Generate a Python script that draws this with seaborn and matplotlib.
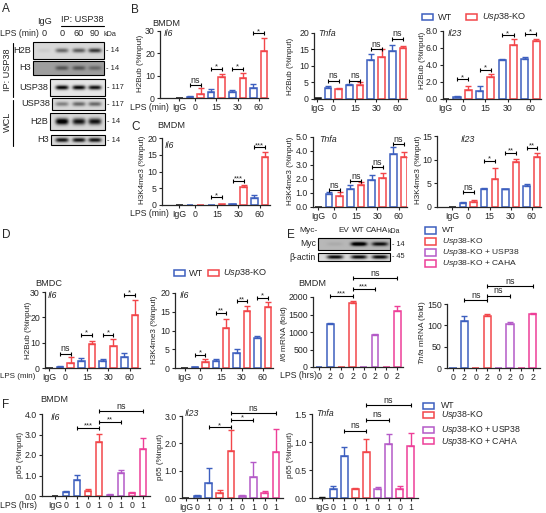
import numpy as np
import pandas as pd
import matplotlib
matplotlib.use('Agg')
import matplotlib.pyplot as plt
import seaborn as sns
from matplotlib.patches import Rectangle

sns.set_style('ticks')
plt.rcParams['font.family'] = ['Liberation Sans', 'DejaVu Sans']
plt.rcParams['mathtext.fontset'] = 'custom'
plt.rcParams['mathtext.rm'] = 'Liberation Sans'
plt.rcParams['mathtext.it'] = 'Liberation Sans:italic'

W, H = 546, 513
C_WT, C_KO, C_RES, C_CAHA, C_IGG = '#3d5fbf', '#f2464a', '#b45ac8', '#ee3f98', '#111111'
FS = 6.3

# ---------------- data ----------------
time_labels = ['IgG', '0', '15', '30', '60']
pair_sig_pos = [(1, 2), (3, 4), (5, 6), (7, 8)]

# B: H2Bub ChIP, BMDM
b_il6_igg, b_il6_wt, b_il6_wt_err = 0.0, [0.5, 2.7, 2.8, 4.3], [0.3, 1.3, 0.7, 1.8]
b_il6_ko, b_il6_ko_err = [2.0, 9.3, 8.8, 21.0], [2.3, 1.3, 2.5, 6.0]
b_il6_sig, b_il6_sig_h = ['ns', '*', '*', '*'], [5.7, 13, 13, 29]

b_tnfa_igg, b_tnfa_wt, b_tnfa_wt_err = 0.2, [3.3, 4.1, 11.9, 14.4], [0.5, 0.3, 1.6, 2.0]
b_tnfa_ko, b_tnfa_ko_err = [3.0, 4.3, 12.6, 15.5], [0.3, 1.0, 2.4, 0.7]
b_tnfa_sig, b_tnfa_sig_h = ['ns', 'ns', 'ns', 'ns'], [5.6, 5.6, 15.0, 18.3]

b_il23_igg, b_il23_wt, b_il23_wt_err = 0.0, [0.23, 0.95, 4.55, 4.65], [0.1, 0.6, 0.1, 0.3]
b_il23_ko, b_il23_ko_err = [1.0, 2.6, 6.4, 6.85], [0.5, 0.3, 0.6, 0.15]
b_il23_sig, b_il23_sig_h = ['*', '*', '*', '*'], [2.3, 3.4, 7.5, 7.7]

# C: H3K4me3 ChIP, BMDM
c_il6_igg, c_il6_wt, c_il6_wt_err = 0.0, [0.0, 0.0, 0.3, 2.2], [0, 0, 0.1, 0.7]
c_il6_ko, c_il6_ko_err = [0.0, 0.2, 5.4, 14.3], [0, 0, 0.5, 1.5]
c_il6_sig, c_il6_sig_h = ['', '*', '***', '***'], [0, 2.3, 7.2, 17.2]

c_tnfa_igg, c_tnfa_wt, c_tnfa_wt_err = 0.0, [0.95, 1.25, 1.9, 3.8], [0.1, 0.35, 0.35, 0.45]
c_tnfa_ko, c_tnfa_ko_err = [0.8, 1.55, 2.05, 3.55], [0.25, 0.2, 0.4, 0.35]
c_tnfa_sig, c_tnfa_sig_h = ['ns', 'ns', 'ns', 'ns'], [1.2, 1.83, 2.83, 4.5]

c_il23_igg, c_il23_wt, c_il23_wt_err = 0.0, [0.8, 3.7, 3.7, 4.4], [0.3, 0.4, 0.2, 0.4]
c_il23_ko, c_il23_ko_err = [1.0, 6.0, 9.5, 10.6], [0.4, 2.3, 0.6, 0.8]
c_il23_sig, c_il23_sig_h = ['ns', '*', '**', '**'], [3.1, 9.7, 11.5, 12.5]

# D: BMDC
d_h2b_igg, d_h2b_wt, d_h2b_wt_err = 0.0, [0.5, 2.7, 2.8, 4.3], [0.3, 1.3, 0.7, 1.8]
d_h2b_ko, d_h2b_ko_err = [2.0, 9.3, 8.8, 21.0], [2.3, 1.3, 2.5, 6.0]
d_h2b_sig, d_h2b_sig_h = ['ns', '*', '*', '*'], [5.7, 13, 13, 29]

d_h3_igg, d_h3_wt, d_h3_wt_err = 0.0, [0.2, 1.8, 4.1, 8.0], [0.1, 0.6, 1.0, 0.6]
d_h3_ko, d_h3_ko_err = [1.5, 10.8, 15.2, 16.2], [0.8, 2.4, 1.4, 1.5]
d_h3_sig, d_h3_sig_h = ['*', '**', '**', '*'], [3.6, 14.8, 17.8, 18.8]

# E: mRNA, BMDM (WT, KO, KO+USP38, KO+CAHA; 0 and 2 h)
e_labels = ['0', '2', '0', '2', '0', '2', '0', '2']
e_il6 = [5, 1230, 5, 1830, 5, 910, 5, 1600]
e_il6_err = [0, 15, 0, 60, 0, 30, 0, 150]
e_il6_sig, e_il6_sig_h = ['***', '***', 'ns'], [2035, 2230, 2540]
e_tnfa = [1, 110, 1, 121, 1, 102, 1, 126]
e_tnfa_err = [0, 13, 0, 5, 0, 5, 0, 4]
e_tnfa_sig, e_tnfa_sig_h = ['ns', 'ns', 'ns'], [159, 169, 192]
e_sig_pos = [(1, 3), (3, 5), (3, 7)]

# F: p65 ChIP, BMDM (IgG, then 0/1 h per genotype)
f_labels = ['IgG', '0', '1', '0', '1', '0', '1', '0', '1']
f_il6 = [0, 0.18, 0.8, 0.25, 2.65, 0.05, 1.1, 0.15, 2.3]
f_il6_err = [0, 0.05, 0.22, 0.1, 0.38, 0.03, 0.18, 0.05, 0.55]
f_il6_sig, f_il6_sig_h = ['***', '**', 'ns'], [3.33, 3.6, 4.15]
f_il23 = [0, 0.07, 0.56, 0.19, 1.72, 0.07, 0.76, 0.17, 1.67]
f_il23_err = [0, 0.03, 0.53, 0.1, 0.78, 0.03, 0.57, 0.1, 0.86]
f_il23_sig, f_il23_sig_h = ['*', '*', 'ns'], [2.58, 2.86, 3.1]
f_tnfa = [0, 0.155, 0.755, 0.16, 0.83, 0.155, 0.96, 0.155, 0.93]
f_tnfa_err = [0.02, 0.065, 0.15, 0.02, 0.22, 0.035, 0.18, 0.065, 0.23]
f_tnfa_sig, f_tnfa_sig_h = ['ns', 'ns', 'ns'], [1.2, 1.4, 1.66]
f_sig_pos = [(2, 4), (4, 6), (4, 8)]

# western blots: band densities per lane
a_rows = ['H2B', 'H3', 'USP38', 'USP38', 'H2B', 'H3']
a_kda = ['14', '14', '117', '117', '14', '14']
a_bands = [[0.05, 0.45, 0.5, 0.65], [0.0, 0.3, 0.3, 0.22], [0.9, 0.9, 0.85],
           [0.35, 0.45, 0.45], [0.95, 0.8, 0.8], [0.8, 0.8, 0.8]]
e_rows = ['Myc', 'β-actin']
e_kda = ['14', '45']
e_bands = [[0.05, 0.9, 0.7], [0.85, 0.85, 0.85]]

# ---------------- figure ----------------
fig = plt.figure(figsize=(W / 100, H / 100), dpi=100)


def make_ax(xr, yr):
    x0, x1, first, step = xr
    y0, ytop, top = yr
    ax = fig.add_axes([x0 / W, 1 - y0 / H, (x1 - x0) / W, (y0 - ytop) / H])
    ax.set_facecolor('none')
    ax._lim = ((x0 - first) / step, (x1 - first) / step, top)
    return ax


def draw_bars(ax, vals, errs, cols, yticks, fmt, xticks, xlabels):
    slots = [str(i) for i in range(len(vals))]
    df = pd.DataFrame({'slot': slots, 'val': vals, 'col': cols})
    sns.barplot(data=df, x='slot', y='val', hue='col', order=slots,
                palette={c: c for c in set(cols)}, dodge=False, fill=False,
                width=0.62, linewidth=1.1, errorbar=None, legend=False, ax=ax)
    for i, (v, e, c) in enumerate(zip(vals, errs, cols)):
        if e > 0:
            ax.errorbar(i, v, yerr=[[0], [e]], fmt='none', ecolor=c,
                        elinewidth=1.0, capsize=2.0, capthick=1.0, clip_on=False)
    lx0, lx1, top = ax._lim
    ax.set_xlim(lx0, lx1)
    ax.set_ylim(0, top)
    ax.set_yticks(yticks)
    ax.set_yticklabels([fmt.format(t) for t in yticks])
    ax.set_xticks(xticks)
    ax.set_xticklabels(xlabels)
    ax.set_xlabel('')
    ax.set_ylabel('')
    sns.despine(ax=ax)
    for s in ('left', 'bottom'):
        ax.spines[s].set_linewidth(0.9)
    ax.tick_params(length=2.5, width=0.8, labelsize=FS, pad=1.2)


def brackets(ax, pos, labels, heights):
    for (a, b), s, h in zip(pos, labels, heights):
        if not s:
            continue
        ax.plot([a, b], [h, h], color='k', lw=0.8, marker='|', ms=3.5, mew=0.8,
                clip_on=False)
        ax.annotate(s, (0.5 * (a + b), h), xytext=(0, 0.3 if s == 'ns' else -1.2),
                    textcoords='offset points', ha='center', va='bottom',
                    fontsize=6.4 if s == 'ns' else 5.6, annotation_clip=False)


def time_course(xr, yr, igg, wt, wt_err, ko, ko_err, sig, sig_h, yticks, fmt='{:g}'):
    ax = make_ax(xr, yr)
    vals, errs, cols = [igg], [0], [C_IGG]
    for w, we, k, ke in zip(wt, wt_err, ko, ko_err):
        vals += [w, k]
        errs += [we, ke]
        cols += [C_WT, C_KO]
    draw_bars(ax, vals, errs, cols, yticks, fmt, [0, 1.5, 3.5, 5.5, 7.5], time_labels)
    brackets(ax, pair_sig_pos, sig, sig_h)
    return ax


rescue_cols = [C_WT, C_WT, C_KO, C_KO, C_RES, C_RES, C_CAHA, C_CAHA]

# B
time_course((160, 268, 179.4, 10.57), (98, 31, 30), b_il6_igg, b_il6_wt, b_il6_wt_err,
            b_il6_ko, b_il6_ko_err, b_il6_sig, b_il6_sig_h, [0, 10, 20, 30])
time_course((314, 407, 317.3, 10.7), (99, 33, 20), b_tnfa_igg, b_tnfa_wt, b_tnfa_wt_err,
            b_tnfa_ko, b_tnfa_ko_err, b_tnfa_sig, b_tnfa_sig_h, [0, 5, 10, 15, 20])
time_course((443, 541, 445.7, 11.3), (99, 31, 8), b_il23_igg, b_il23_wt, b_il23_wt_err,
            b_il23_ko, b_il23_ko_err, b_il23_sig, b_il23_sig_h, [0, 2, 4, 6, 8], '{:.1f}')
# C
time_course((162, 270, 179.3, 10.7), (205, 138, 20), c_il6_igg, c_il6_wt, c_il6_wt_err,
            c_il6_ko, c_il6_ko_err, c_il6_sig, c_il6_sig_h, [0, 5, 10, 15, 20])
time_course((313, 407, 318.3, 10.7), (207, 137, 5), c_tnfa_igg, c_tnfa_wt, c_tnfa_wt_err,
            c_tnfa_ko, c_tnfa_ko_err, c_tnfa_sig, c_tnfa_sig_h, [0, 1, 2, 3, 4, 5], '{:.1f}')
time_course((437, 541, 452.4, 10.6), (207, 136, 15), c_il23_igg, c_il23_wt, c_il23_wt_err,
            c_il23_ko, c_il23_ko_err, c_il23_sig, c_il23_sig_h, [0, 5, 10, 15])
# D
time_course((45, 140, 49.3, 10.7), (368, 292, 30), d_h2b_igg, d_h2b_wt, d_h2b_wt_err,
            d_h2b_ko, d_h2b_ko_err, d_h2b_sig, d_h2b_sig_h, [0, 10, 20, 30])
time_course((175, 273, 184.6, 10.4), (368, 293, 20), d_h3_igg, d_h3_wt, d_h3_wt_err,
            d_h3_ko, d_h3_ko_err, d_h3_sig, d_h3_sig_h, [0, 5, 10, 15, 20])

# E
ax = make_ax((313, 403, 319, 11.2), (367, 297, 2000))
draw_bars(ax, e_il6, e_il6_err, rescue_cols, [0, 500, 1000, 1500, 2000], '{:g}',
          range(8), e_labels)
brackets(ax, e_sig_pos, e_il6_sig, e_il6_sig_h)
ax = make_ax((447, 540, 453, 11.4), (368, 304, 150))
draw_bars(ax, e_tnfa, e_tnfa_err, rescue_cols, [0, 50, 100, 150], '{:g}', range(8), e_labels)
brackets(ax, e_sig_pos, e_tnfa_sig, e_tnfa_sig_h)

# F
f_cols = [C_IGG] + rescue_cols
ax = make_ax((42, 150, 55, 11), (496, 414, 4))
draw_bars(ax, f_il6, f_il6_err, f_cols, [0, 1, 2, 3, 4], '{:.1f}', range(9), f_labels)
brackets(ax, f_sig_pos, f_il6_sig, f_il6_sig_h)
ax = make_ax((182, 283, 186, 11.25), (498, 416, 3))
draw_bars(ax, f_il23, f_il23_err, f_cols, [0, 1, 2, 3], '{:.1f}', range(9), f_labels)
brackets(ax, f_sig_pos, f_il23_sig, f_il23_sig_h)
ax = make_ax((312, 418, 322, 11.1), (498, 414, 1.5))
draw_bars(ax, f_tnfa, f_tnfa_err, f_cols, [0, 0.5, 1.0, 1.5], '{:.1f}', range(9), f_labels)
brackets(ax, f_sig_pos, f_tnfa_sig, f_tnfa_sig_h)

# ---------------- overlay: letters, labels, blots, legends ----------------
ov = fig.add_axes([0, 0, 1, 1], zorder=10)
ov.set_facecolor('none')


def T(x, y, s, size=FS, ha='center', **kw):
    ov.text(x, y, s, fontsize=size, ha=ha, va='center', **kw)


def blot(x0, x1, y0, y1, lanes, dens, bg, thick=2.4, half=6.5):
    xs = np.linspace(x0, x1, int((x1 - x0) * 4))
    ys = np.linspace(y0, y1, int((y1 - y0) * 4))
    X, Y = np.meshgrid(xs, ys)
    yc = 0.5 * (y0 + y1)
    img = np.full(X.shape, bg)
    for lx, d in zip(lanes, dens):
        img = img - d * np.exp(-((X - lx) / half) ** 4 - ((Y - yc) / thick) ** 2)
    ov.imshow(np.clip(img, 0, 1), extent=(x0, x1, y1, y0), cmap='gray', vmin=0, vmax=1,
              aspect='auto', interpolation='bilinear', zorder=1)
    ov.add_patch(Rectangle((x0, y0), x1 - x0, y1 - y0, fill=False, lw=0.8, ec='k', zorder=2))


# panel letters
for letter, x, y in [('A', 2, 9), ('B', 131, 10), ('C', 131, 127), ('D', 2, 235),
                     ('E', 287, 235), ('F', 2, 405)]:
    T(x, y, letter, size=8.5, ha='left')

# A blot
a_boxes = [(33, 104, 42, 59), (33, 104, 61, 75), (50, 105, 79, 96),
           (52, 105, 98, 110), (50, 105, 113, 130), (51, 105, 135, 145)]
a_bg = [0.85, 0.62, 0.9, 0.85, 0.85, 0.85]
lanes4 = [44, 62, 79, 95]
for i, ((x0, x1, y0, y1), lab, kda, dens) in enumerate(zip(a_boxes, a_rows, a_kda, a_bands)):
    blot(x0, x1, y0, y1, lanes4[-len(dens):], dens, a_bg[i],
         thick=3.2 if i == 4 else 2.2)
    T(x0 - 2, 0.5 * (y0 + y1), lab, size=6.6, ha='right')
    T(x1 + 2, 0.5 * (y0 + y1), '- ' + kda, size=5.4, ha='left')
T(44, 22, 'IgG', size=6.6)
T(82, 19, 'IP: USP38', size=6.6)
ov.plot([61, 104], [25.5, 25.5], color='k', lw=0.8)
T(0.5, 34, 'LPS (min)', size=6.2, ha='left')
for x, s in zip(lanes4, ['0', '0', '60', '90']):
    T(x, 34, s, size=6.6)
T(103, 34.5, 'kDa', size=5.2, ha='left')
T(7, 70, 'IP: USP38', size=6.6, rotation=90)
ov.plot([13, 13], [43, 97], color='k', lw=0.8)
T(7, 122, 'WCL', size=6.6, rotation=90)
ov.plot([13, 13], [100, 146], color='k', lw=0.8)

# E blot
e_boxes = [(318, 390, 238, 250), (318, 390, 253, 261)]
lanes3 = [335, 359, 380]
for (x0, x1, y0, y1), lab, kda, dens, bg in zip(e_boxes, e_rows, e_kda, e_bands, [0.72, 0.85]):
    blot(x0, x1, y0, y1, lanes3, dens, bg, thick=2.0, half=8)
    T(x0 - 2, 0.5 * (y0 + y1), lab, size=6.2, ha='right')
    T(x1 + 2, 0.5 * (y0 + y1), '- ' + kda, size=5.2, ha='left')
T(318, 231, 'Myc-', size=6.0, ha='right')
for x, s in zip([344, 358, 377], ['EV', 'WT', 'CAHA']):
    T(x, 231, s, size=5.9)
T(388, 231.5, 'kDa', size=5.0, ha='left')

# cell-type labels
for x, y, s in [(152, 23, 'BMDM'), (157, 125, 'BMDM'), (35, 283, 'BMDC'),
                (298, 283, 'BMDM'), (40, 399, 'BMDM')]:
    T(x, y, s, size=6.6, ha='left')

# gene labels
for x, y, s in [(164, 34, 'Il6'), (318, 34, 'Tnfa'), (448, 34, 'Il23'),
                (165, 145, 'Il6'), (319, 139, 'Tnfa'), (461, 140, 'Il23'),
                (48, 295, 'Il6'), (180, 295, 'Il6'),
                (51, 417, 'Il6'), (185, 414, 'Il23'), (316, 414, 'Tnfa')]:
    T(x, y, s, size=6.4, ha='left', style='italic')

# y labels
for x, y, s in [(141, 63, 'H2Bub (%input)'), (291, 66, 'H2Bub (%input)'),
                (422, 60, 'H2Bub (%input)'), (142, 170, 'H3K4me3 (%input)'),
                (291, 171, 'H3K4me3 (%input)'), (419, 170, 'H3K4me3 (%input)'),
                (28, 330, 'H2Bub (%input)'), (155, 330, 'H3K4me3 (%input)'),
                (284, 333, r'$\it{Il6}$ mRNA (fold)'), (423, 333, r'$\it{Tnfa}$ mRNA (fold)'),
                (21, 455, 'p65 (%input)'), (160, 457, 'p65 (%input)'),
                (290, 455, 'p65 (%input)')]:
    T(x, y, s, size=5.9, rotation=90)

# x labels
T(130, 107, 'LPS (min)', ha='left')
T(130, 214, 'LPS (min)', ha='left')
T(0, 376, 'LPS (min)', size=5.8, ha='left')
T(317, 376, 'LPS (hrs)', ha='right')
T(0, 506, 'LPS (hrs)', ha='left')


def legend_entry(x, y, color, label, tx, size=6.6):
    ov.add_patch(Rectangle((x, y - 3.2), 11, 6.4, fill=False, ec=color, lw=1.1))
    T(tx, y, label, size=size, ha='left')


ko_txt = r'$\it{Usp38}$-KO'
legend_entry(422, 17, C_WT, 'WT', 438)
legend_entry(466, 17, C_KO, ko_txt, 482)
legend_entry(174, 273, C_WT, 'WT', 189)
legend_entry(208, 273, C_KO, ko_txt, 223)
four = ['WT', ko_txt, ko_txt + ' + USP38', ko_txt + ' + CAHA']
for y, c, s in zip([230.5, 241.5, 252.5, 263.5], [C_WT, C_KO, C_RES, C_CAHA], four):
    legend_entry(425, y, c, s, 442, size=6.1)
for y, c, s in zip([406, 415, 430, 441], [C_WT, C_KO, C_RES, C_CAHA], four):
    legend_entry(423, y, c, s, 441, size=6.3)

ov.set_xlim(0, W)
ov.set_ylim(H, 0)
ov.axis('off')

fig.savefig('out.png', dpi=100)
